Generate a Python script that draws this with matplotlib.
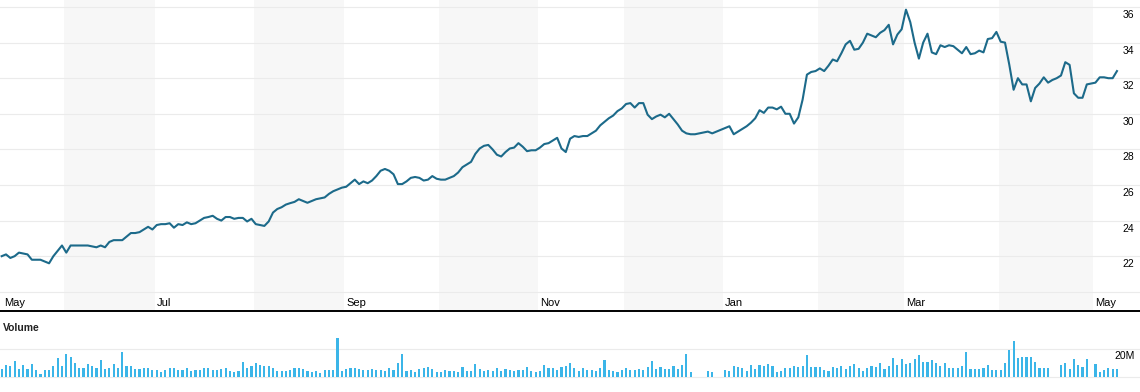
import numpy as np
import pandas as pd
import matplotlib
matplotlib.use('Agg')
import matplotlib.pyplot as plt

plt.rcParams['font.family'] = ['Liberation Sans', 'DejaVu Sans']

# Closing prices, one per weekday from 12 May 2014
prices = [
    22.0, 22.1, 21.9, 22.0, 22.2,   22.15, 22.1, 21.8, 21.8, 21.8,
    21.7, 21.6, 22.0, 22.3, 22.6,   22.2, 22.6, 22.6, 22.6, 22.6,
    22.6, 22.55, 22.5, 22.6, 22.5,  22.8, 22.9, 22.9, 22.9, 23.1,
    23.3, 23.3, 23.35, 23.5, 23.65, 23.5, 23.75, 23.8, 23.8, 23.85,
    23.6, 23.8, 23.75, 23.9, 23.8,  23.85, 24.0, 24.15, 24.2, 24.27,
    24.1, 24.0, 24.2, 24.2, 24.1,   24.15, 24.15, 23.95, 24.1, 23.8,
    23.75, 23.7, 23.95, 24.45, 24.65, 24.75, 24.9, 24.98, 25.05, 25.2,
    25.1, 25.0, 25.1, 25.2, 25.25,  25.3, 25.5, 25.65, 25.75, 25.85,
    25.9, 26.1, 26.3, 26.05, 26.2,  26.1, 26.25, 26.5, 26.8, 26.9,
    26.8, 26.6, 26.05, 26.05, 26.2, 26.4, 26.45, 26.4, 26.25, 26.3,
    26.5, 26.35, 26.3, 26.3, 26.4,  26.5, 26.7, 27.0, 27.15, 27.3,
    27.75, 28.05, 28.2, 28.25, 28.0, 27.7, 27.6, 27.85, 28.05, 28.1,
    28.35, 28.15, 27.9, 27.95, 27.95, 28.1, 28.3, 28.35, 28.5, 28.65,
    28.05, 27.85, 28.6, 28.75, 28.7, 28.75, 28.75, 28.9, 29.05, 29.35,
    29.55, 29.75, 29.9, 30.15, 30.3, 30.55, 30.6, 30.35, 30.6, 30.6,
    29.95, 29.7, 29.85, 29.95, 29.8, 30.0, 29.7, 29.4, 29.05, 28.9,
    28.85, 28.85, 28.9, 28.95, 29.0, 28.9, 29.0, 29.1, 29.2, 29.3,
    28.85, 29.0, 29.15, 29.3, 29.5,  29.75, 30.2, 30.05, 30.35, 30.35,
    30.25, 30.4, 30.0, 30.0, 29.45, 29.8, 30.8, 32.2, 32.35, 32.4,
    32.55, 32.4, 32.7, 33.05, 32.95, 33.4, 33.9, 34.1, 33.6, 33.65,
    34.0, 34.5, 34.4, 34.3, 34.55,  34.7, 35.0, 33.9, 34.45, 34.75,
    35.85, 35.15, 34.0, 33.1, 34.0, 34.5, 33.45, 33.35, 33.85, 33.75,
    33.85, 33.8, 33.6, 33.4, 33.75, 33.35, 33.4, 33.55, 33.45, 34.2,
    34.25, 34.6, 34.05, 34.0, 32.75, 31.35, 32.0, 31.65, 31.65, 30.7,
    31.45, 31.7, 32.05, 31.75, 31.9, 32.0, 32.15, 32.9, 32.75, 31.15,
    30.9, 30.9, 31.65, 31.7, 31.75,  32.05, 32.05, 32.0, 32.0, 32.4,
]

# Volume in millions (0 = no bar shown)
volume = [
    6.0, 8.3, 7.6, 11.2, 5.5, 8.3, 5.5, 9.0, 5.2, 2.4,
    5.2, 5.2, 7.6, 13.3, 7.6, 16.2, 14.3, 10.0, 6.7, 6.7,
    9.0, 7.6, 6.2, 11.9, 5.7, 6.7, 9.0, 6.7, 17.6, 7.6,
    7.6, 6.0, 6.0, 6.7, 6.7, 5.2, 5.2, 3.3, 5.2, 6.4,
    6.7, 5.2, 4.8, 6.7, 4.3, 4.8, 5.2, 6.7, 6.7, 4.8,
    4.8, 5.7, 6.2, 4.3, 3.6, 4.3, 10.5, 6.7, 8.1, 9.8,
    8.8, 8.1, 7.9, 6.7, 4.3, 4.3, 4.3, 4.8, 6.7, 6.2,
    5.7, 4.3, 3.8, 4.3, 2.9, 4.8, 4.8, 4.8, 27.6, 4.3,
    5.7, 6.2, 6.2, 6.0, 4.8, 5.2, 6.0, 5.2, 4.8, 4.3,
    6.5, 5.1, 10.1, 16.6, 4.3, 5.1, 3.6, 5.8, 6.5, 7.2,
    5.8, 3.6, 3.6, 5.1, 4.3, 4.3, 3.6, 7.2, 4.3, 4.3,
    9.4, 5.8, 4.3, 5.1, 4.3, 6.5, 4.3, 5.8, 5.1, 4.3,
    5.1, 5.1, 7.2, 4.3, 3.6, 4.3, 8.7, 6.5, 6.5, 5.1,
    7.2, 8.0, 10.1, 6.5, 4.3, 6.5, 5.1,
    5.1, 4.3, 6.5, 12.3, 5.1, 4.3, 3.6, 5.1, 6.5, 5.1,
    5.1, 5.8, 5.1, 7.2, 11.6, 5.8, 7.2, 5.8, 5.8, 8.0,
    5.8, 8.7, 16.6, 3.6, 0, 0, 0, 4.3, 3.6, 0,
    0, 5.1, 4.3, 8.0, 7.2, 6.5, 4.3, 8.7, 5.8, 8.7,
    8.0, 9.4, 8.0, 3.6, 4.3, 6.5,
    6.2, 7.6, 6.9, 7.6, 15.5, 6.9, 6.9, 6.9, 4.8, 4.0,
    6.9, 6.2, 7.6, 5.5, 7.6, 9.0, 6.2, 4.0, 6.2, 7.6,
    6.9, 9.8, 5.5, 7.6, 13.3, 8.3, 12.6, 9.0, 9.8, 12.6,
    15.5, 10.5, 10.5, 11.9, 9.8, 7.6, 9.8, 6.2, 6.2, 6.2,
    7.6, 17.6, 5.5, 5.5, 5.5, 6.2, 8.3, 4.8, 4.8, 4.8,
    9.8, 19.0, 25.5, 13.3, 14.0, 14.0, 14.0, 10.5, 6.7, 6.2,
    6.2, 0, 0, 8.3, 9.8, 5.5, 12.6, 8.3, 6.9, 12.6,
    0, 9.0, 3.3, 4.8, 6.2, 5.5, 5.5,
]

price_levels = [20, 22, 24, 26, 28, 30, 32, 34, 36]
price_labels = [22, 24, 26, 28, 30, 32, 34, 36]
volume_levels = [0, 20]

dates = pd.bdate_range('2014-05-12', periods=len(prices))
idx = np.arange(len(prices))
month_starts = pd.date_range('2014-05-01', '2015-06-01', freq='MS')
month_edges = np.searchsorted(dates, month_starts) - 0.5

line_color = '#1c6a8a'
bar_color = '#3bb5e8'
band_color = '#f7f7f7'
grid_color = '#ebebeb'

fig = plt.figure(figsize=(11.4, 3.92), dpi=100)
ax = fig.add_axes([0, 1 - 311 / 392, 1, 311 / 392])
axv = fig.add_axes([0, 0, 1, 79 / 392])

xlim = (-0.395, 264.35)

# shaded bands on every other month
for i in range(1, len(month_starts) - 1, 2):
    ax.axvspan(month_edges[i], month_edges[i + 1], color=band_color, lw=0, zorder=0)

for lvl in price_levels:
    ax.axhline(lvl, color=grid_color, lw=0.8, zorder=1)

ax.plot(idx, prices, color=line_color, lw=1.5, zorder=3, solid_joinstyle='round')

ax.set_xlim(*xlim)
ax.set_ylim(18.92, 36.393)
ax.set_xticks([])
ax.set_yticks([])
for side in ['top', 'left', 'right']:
    ax.spines[side].set_visible(False)
ax.spines['bottom'].set_color('black')
ax.spines['bottom'].set_linewidth(1.4)

for v in price_labels:
    ax.annotate(str(v), xy=(1, v), xycoords=('axes fraction', 'data'),
                xytext=(-6, -3), textcoords='offset pixels',
                ha='right', va='top', fontsize=7.5, color='black')

# month labels on odd months
for i in range(0, len(month_starts) - 1, 2):
    pos = max(month_edges[i], 0)
    ax.annotate(month_starts[i].strftime('%b'), xy=(pos, 0),
                xycoords=('data', 'axes fraction'),
                xytext=(2, 4.5), textcoords='offset pixels',
                ha='left', va='baseline', fontsize=8, color='black')

# volume panel
for lvl in volume_levels:
    axv.axhline(lvl, color=grid_color, lw=0.8, zorder=1)
axv.bar(idx, volume, width=0.5, color=bar_color, zorder=2)
axv.set_xlim(*xlim)
axv.set_ylim(-10.7, 45.7)
axv.set_xticks([])
axv.set_yticks([])
for side in axv.spines:
    axv.spines[side].set_visible(False)

axv.annotate('Volume', xy=(0, 1), xycoords='axes fraction',
             xytext=(3, -15), textcoords='offset pixels',
             ha='left', va='center', fontsize=7.5, fontweight='bold', color='#222222')
axv.annotate('20M', xy=(1, 20), xycoords=('axes fraction', 'data'),
             xytext=(-5, -2.5), textcoords='offset pixels',
             ha='right', va='top', fontsize=7.5, color='black')

fig.savefig('out.png', dpi=100)
